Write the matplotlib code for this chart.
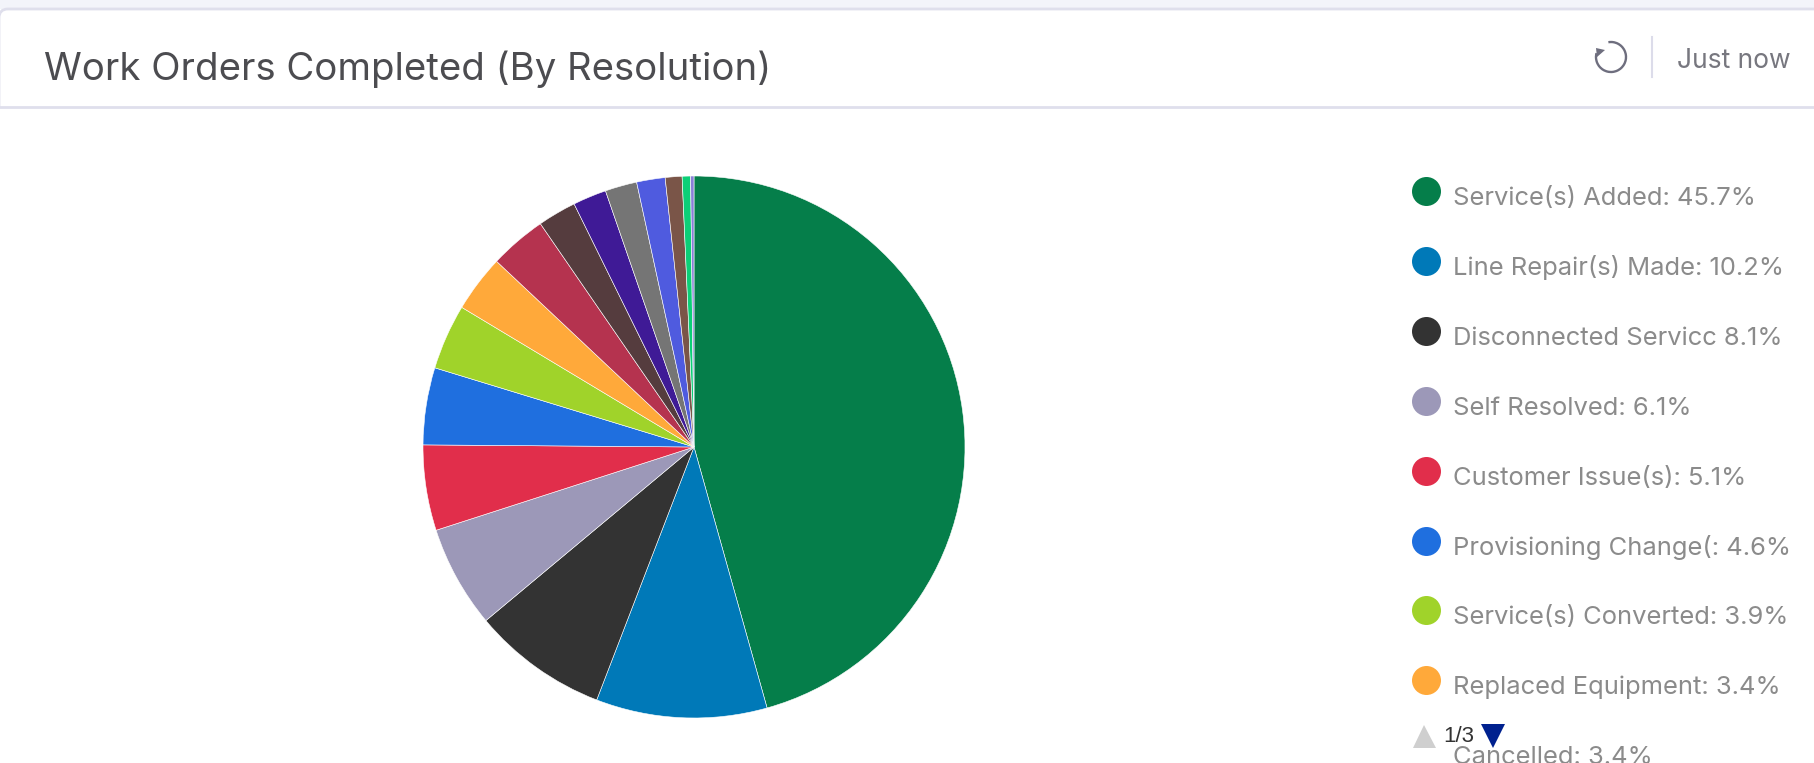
import matplotlib
matplotlib.use("Agg")
import matplotlib.pyplot as plt
from matplotlib.patches import Arc, FancyBboxPatch, Polygon, Rectangle

plt.rcParams['font.family'] = ['Inter', 'DejaVu Sans']

title = "Work Orders Completed (By Resolution)"
updated = "Just now"
page_label = "1/3"

# the slices after Cancelled are on later legend pages, so they have no label here
names = ["Service(s) Added: ", "Line Repair(s) Made: ", "Disconnected Servicc ", "Self Resolved: ",
         "Customer Issue(s): ", "Provisioning Change(: ", "Service(s) Converted: ",
         "Replaced Equipment: ", "Cancelled: "]
shares = [45.7, 10.2, 8.1, 6.1, 5.1, 4.6, 3.9, 3.4, 3.4, 2.3, 2.0, 1.9, 1.7, 1.0, 0.5, 0.2]
colors = ["#057e4a", "#0079b8", "#333333", "#9c98b8", "#e12e4b", "#1f6fdf", "#a0d32a", "#ffa93a",
          "#b5334f", "#553c3e", "#3f1a96", "#757575", "#4f5bdf", "#7a5548", "#0ccf77", "#8a7fd8"]

W, H = 1815, 763
fig = plt.figure(figsize=(W / 100, H / 100), dpi=100, facecolor="white")

# overlay in pixel coordinates for the card chrome and the legend
ui = fig.add_axes([0, 0, 1, 1])
ui.set_xlim(0, W)
ui.set_ylim(H, 0)
ui.axis("off")

# page background and card header, only the top left corner of the card shows
ui.add_patch(Rectangle((0, 0), W, 9, fc="#f3f4fa", ec="none"))
ui.add_patch(FancyBboxPatch((-1, 9), W + 40, 120, boxstyle="round,pad=0,rounding_size=9",
                            fc="white", ec="#dfdfec", lw=2))
ui.add_patch(Rectangle((0, 107), W, 40, fc="white", ec="none", zorder=1.5))
ui.plot([0, W], [106.5, 106.5], color="#dfdfec", lw=2, zorder=1.6)

title_text = ui.text(44, 80, title, fontsize=27.6, color="#4c4c50", va="baseline")
title_text.set_clip_path(Rectangle((0, 0), W, 84, transform=ui.transData))

# refresh icon
ui.add_patch(Arc((1611, 57), 30, 30, theta1=-100, theta2=195, color="#6e6e7e", lw=1.7))
ui.add_patch(Polygon([[1596, 48], [1605, 50], [1597, 57]], fc="#6e6e7e", ec="none"))
ui.plot([1652, 1652], [37, 77], color="#dcdcea", lw=1.5)
ui.text(1677, 68, updated, fontsize=19, color="#77777f", va="baseline")

# pie
pie_ax = fig.add_axes([(694 - 271) / W, (H - 447 - 271) / H, 542 / W, 542 / H])
pie_ax.pie(shares, colors=colors, startangle=90, counterclock=False, radius=1,
           wedgeprops={"edgecolor": "#ffffff", "linewidth": 0.4, "alpha": 1})
pie_ax.set_xlim(-1, 1)
pie_ax.set_ylim(-1, 1)

# legend, first page
for i, name in enumerate(names):
    y = 191 + i * 69.9
    if i < 8:
        ui.scatter([1426], [y], s=436, color=colors[i], linewidths=0)
    ui.text(1453, y + 14, f"{name}{shares[i]}%", fontsize=18.4, color="#8b8b8b", va="baseline",
            clip_on=True)

# legend pager
ui.add_patch(Polygon([[1413, 748], [1424, 725], [1436, 748]], fc="#cfcfcf", ec="none"))
ui.text(1443, 742, page_label, fontsize=16, color="#333333", va="baseline", family="Liberation Sans")
ui.add_patch(Polygon([[1481, 724], [1505, 724], [1493, 748]], fc="#00218f", ec="none"))

fig.savefig("out.png", dpi=100)
